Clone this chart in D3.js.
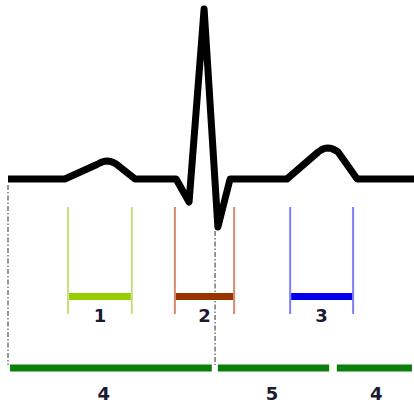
<!DOCTYPE html>
<html>
<head>
<meta charset="utf-8">
<script src="https://cdn.jsdelivr.net/npm/d3@7/dist/d3.min.js"></script>
<style>
  html, body { margin: 0; padding: 0; background: #fff; }
  svg { display: block; }
</style>
</head>
<body>
<svg id="chart" width="414" height="403"></svg>
<script>
// ECG trace: time (ms) and voltage (mV)
const ecgTime = [0, 140, 219, 226, 233, 239, 244, 249, 255, 262, 268, 313, 414, 446, 483, 517, 547, 687, 764, 771, 778, 783, 788, 793, 798, 805, 813, 860, 1000];
const ecgVolt = [0, 0, 0.145, 0.16, 0.172, 0.178, 0.18, 0.178, 0.172, 0.16, 0.145, 0, 0, -0.23, 1.70, -0.48, 0, 0, 0.27, 0.29, 0.303, 0.308, 0.31, 0.308, 0.303, 0.29, 0.27, 0, 0];

// Wave intervals (ms): 1 = P wave, 2 = QRS complex, 3 = T wave
const waveLabels = ["1", "2", "3"];
const waveStart = [148, 411, 695];
const waveEnd = [305, 557, 850];
const waveThin = ["#c2e07c", "#cf8b6c", "#7f7ff7"];
const waveBar = ["#99cc00", "#993300", "#0000ee"];

// Segment bars (ms)
const segLabels = ["4", "5", "4"];
const segStart = [5, 517, 810];
const segEnd = [502, 791, 995];
const segLabelAt = [236, 650, 907];

// Reference dash-dot lines (ms)
const refTimes = [0, 510];
const refTop = [0, -0.46];

const svg = d3.select("#chart");
const x = d3.scaleLinear().domain([0, 1000]).range([8, 414]);
const y = d3.scaleLinear().domain([0, 1.70]).range([179, 9]);

// reference dash-dot lines
svg.selectAll("line.ref").data(refTimes).join("line")
  .attr("class", "ref")
  .attr("x1", d => x(d)).attr("x2", d => x(d))
  .attr("y1", (d, i) => y(refTop[i]) + 6).attr("y2", 365)
  .attr("stroke", "#444").attr("stroke-width", 1.1)
  .attr("stroke-dasharray", "5,2,1.5,2");

// ECG line
const line = d3.line().x((d, i) => x(ecgTime[i])).y(d => y(d)).curve(d3.curveLinear);
svg.append("path")
  .attr("d", line(ecgVolt))
  .attr("fill", "none")
  .attr("stroke", "#000")
  .attr("stroke-width", 7)
  .attr("stroke-linejoin", "round")
  .attr("stroke-linecap", "butt");

// wave brackets
const g = svg.append("g");
waveLabels.forEach((lab, i) => {
  const x0 = x(waveStart[i]), x1 = x(waveEnd[i]);
  [x0, x1].forEach(xx => {
    g.append("line").attr("x1", xx).attr("x2", xx).attr("y1", 207).attr("y2", 314)
      .attr("stroke", waveThin[i]).attr("stroke-width", 2);
  });
  g.append("line").attr("x1", x0 + 1).attr("x2", x1 - 1).attr("y1", 296.5).attr("y2", 296.5)
    .attr("stroke", waveBar[i]).attr("stroke-width", 7);
  g.append("text").attr("x", (x0 + x1) / 2).attr("y", 322)
    .attr("text-anchor", "middle")
    .attr("font-family", "DejaVu Sans, Verdana, sans-serif")
    .attr("font-weight", "bold").attr("font-size", 18)
    .attr("fill", "#1a1a30").text(lab);
});

// segment bars
segLabels.forEach((lab, i) => {
  svg.append("line").attr("x1", x(segStart[i])).attr("x2", x(segEnd[i]))
    .attr("y1", 368).attr("y2", 368)
    .attr("stroke", "#0a7f0a").attr("stroke-width", 7);
  svg.append("text").attr("x", x(segLabelAt[i])).attr("y", 400)
    .attr("text-anchor", "middle")
    .attr("font-family", "DejaVu Sans, Verdana, sans-serif")
    .attr("font-weight", "bold").attr("font-size", 18)
    .attr("fill", "#1a1a30").text(lab);
});
</script>
</body>
</html>
